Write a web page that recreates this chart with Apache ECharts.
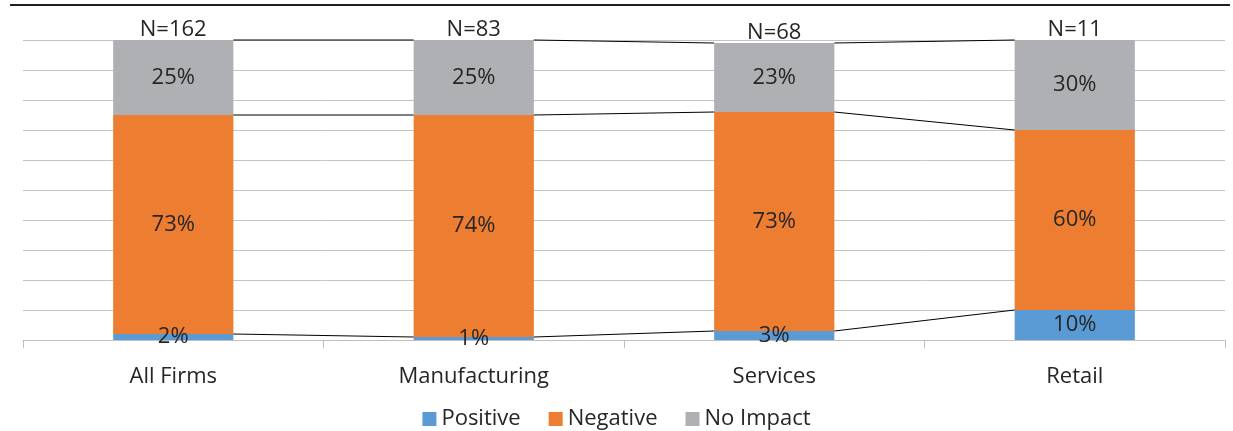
<!DOCTYPE html>
<html>
<head>
<meta charset="utf-8">
<title>Impact by sector</title>
<script src="https://cdn.jsdelivr.net/npm/echarts@6/dist/echarts.min.js"></script>
<style>
  html, body { margin: 0; padding: 0; background: #fff; }
  #chart { width: 1233px; height: 431px; }
</style>
</head>
<body>
<div id="chart"></div>
<script>
// Categories and sample sizes
const categories = ['All Firms', 'Manufacturing', 'Services', 'Retail'];
const sampleSizes = ['N=162', 'N=83', 'N=68', 'N=11'];

// Share of firms (%) per impact type
const positive = [2, 1, 3, 10];
const negative = [73, 74, 73, 60];
const noImpact = [25, 25, 23, 30];

const FONT = '"Open Sans", "Noto Sans", sans-serif';
const TEXT = '#262626';
const FS = 22;
const BAR_RATIO = 0.4; // bar width as share of the category band

// Cumulative stack tops, used for the connector lines between bars
const cumPos = positive.slice();
const cumNeg = positive.map((v, i) => v + negative[i]);
const cumAll = cumNeg.map((v, i) => v + noImpact[i]);

function connectorData(cum) {
  const out = [];
  for (let i = 0; i < cum.length - 1; i++) out.push([i, cum[i], cum[i + 1]]);
  return out;
}

function connectorSeries(cum) {
  return {
    type: 'custom',
    silent: true,
    z: 5,
    data: connectorData(cum),
    renderItem: function (params, api) {
      const i = api.value(0);
      const p1 = api.coord([i, api.value(1)]);
      const p2 = api.coord([i + 1, api.value(2)]);
      const band = api.size([1, 0])[0];
      const half = band * BAR_RATIO / 2;
      return {
        type: 'line',
        shape: { x1: p1[0] + half, y1: p1[1], x2: p2[0] - half, y2: p2[1] },
        style: { stroke: '#000', lineWidth: 1 }
      };
    }
  };
}

const segLabel = {
  show: true,
  position: 'inside',
  color: TEXT,
  fontFamily: FONT,
  fontSize: FS,
  formatter: p => p.value + '%'
};

const chart = echarts.init(document.getElementById('chart'), null, { renderer: 'canvas' });

chart.setOption({
  animation: false,
  textStyle: { fontFamily: FONT },
  graphic: [{
    type: 'line',
    shape: { x1: 10, y1: 5, x2: 1230, y2: 5 },
    style: { stroke: '#1f1f1f', lineWidth: 2 }
  }],
  grid: { left: 23, right: 8, top: 40, bottom: 91, containLabel: false },
  legend: {
    bottom: -4,
    left: 'center',
    itemWidth: 14,
    itemHeight: 14,
    itemGap: 28,
    icon: 'rect',
    textStyle: { color: TEXT, fontSize: FS, fontFamily: FONT },
    data: ['Positive', 'Negative', 'No Impact']
  },
  xAxis: {
    type: 'category',
    data: categories,
    axisLine: { lineStyle: { color: '#bfbfbf', width: 1 } },
    axisTick: { show: true, length: 8, lineStyle: { color: '#bfbfbf' } },
    axisLabel: { color: TEXT, fontSize: FS, fontFamily: FONT, margin: 26 }
  },
  yAxis: {
    type: 'value',
    min: 0,
    max: 100,
    interval: 10,
    axisLabel: { show: false },
    axisLine: { show: false },
    axisTick: { show: false },
    splitLine: { lineStyle: { color: '#c4c4c4', width: 1 } }
  },
  series: [
    {
      name: 'Positive', type: 'bar', stack: 'share', barWidth: '40%',
      itemStyle: { color: '#5b9bd5' }, label: segLabel, data: positive, z: 2
    },
    {
      name: 'Negative', type: 'bar', stack: 'share', barWidth: '40%',
      itemStyle: { color: '#ed7d31' }, label: segLabel, data: negative, z: 2
    },
    {
      name: 'No Impact', type: 'bar', stack: 'share', barWidth: '40%',
      itemStyle: { color: '#afb0b3' }, label: segLabel, data: noImpact, z: 2
    },
    {
      // sample size shown above each stack
      name: 'N', type: 'bar', stack: 'share', barWidth: '40%',
      data: categories.map(() => 0),
      itemStyle: { color: 'transparent' },
      label: {
        show: true,
        position: 'top',
        distance: -1,
        color: TEXT,
        fontFamily: FONT,
        fontSize: FS,
        formatter: p => sampleSizes[p.dataIndex]
      },
      z: 6
    },
    connectorSeries(cumPos),
    connectorSeries(cumNeg),
    connectorSeries(cumAll)
  ]
});
</script>
</body>
</html>
